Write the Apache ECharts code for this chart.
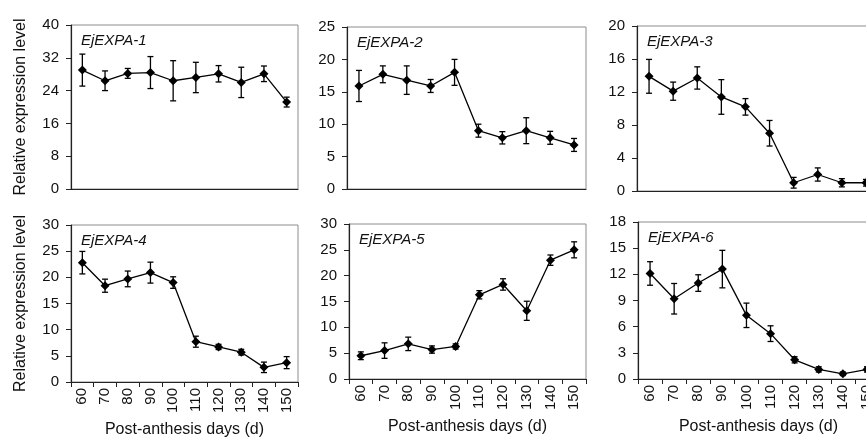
<!DOCTYPE html>
<html>
<head>
<meta charset="utf-8">
<script src="https://cdn.jsdelivr.net/npm/echarts@6/dist/echarts.min.js"></script>
<style>
  html, body { margin: 0; padding: 0; background: #fff; }
  #chart { width: 866px; height: 437px; }
</style>
</head>
<body>
<div id="chart"></div>
<script>
// post-anthesis days
const days = ['60', '70', '80', '90', '100', '110', '120', '130', '140', '150'];

// gene names
const genes = ['EjEXPA-1', 'EjEXPA-2', 'EjEXPA-3', 'EjEXPA-4', 'EjEXPA-5', 'EjEXPA-6'];

// mean relative expression and error (± SD)
const exp1 = [29.0, 26.4, 28.2, 28.4, 26.4, 27.2, 28.1, 26.0, 28.1, 21.2];
const err1 = [3.9, 2.4, 1.2, 3.9, 4.9, 3.7, 2.0, 3.7, 1.9, 1.2];
const exp2 = [15.9, 17.7, 16.8, 15.9, 18.0, 9.0, 7.9, 9.0, 7.9, 6.8];
const err2 = [2.4, 1.3, 2.2, 1.0, 2.0, 1.0, 0.95, 2.0, 1.0, 1.0];
const exp3 = [13.9, 12.1, 13.7, 11.4, 10.2, 7.0, 1.0, 2.0, 1.0, 1.0];
const err3 = [2.05, 1.1, 1.35, 2.1, 1.0, 1.55, 0.65, 0.8, 0.5, 0.4];
const exp4 = [22.8, 18.4, 19.7, 20.9, 19.0, 7.7, 6.7, 5.7, 2.8, 3.7];
const err4 = [2.15, 1.25, 1.5, 2.0, 1.1, 1.05, 0.5, 0.55, 1.0, 1.15];
const exp5 = [4.5, 5.5, 6.8, 5.7, 6.3, 16.3, 18.3, 13.2, 23.0, 25.0];
const err5 = [0.75, 1.5, 1.3, 0.7, 0.5, 0.8, 1.1, 1.85, 1.0, 1.55];
const exp6 = [12.1, 9.2, 11.0, 12.6, 7.3, 5.2, 2.2, 1.1, 0.6, 1.1];
const err6 = [1.35, 1.75, 0.95, 2.15, 1.4, 0.9, 0.35, 0.3, 0.2, 0.3];

// y axis ranges
const yMax = [40, 25, 20, 30, 30, 18];
const yStep = [8, 5, 4, 5, 5, 3];

const means = [exp1, exp2, exp3, exp4, exp5, exp6];
const errs = [err1, err2, err3, err4, err5, err6];

const FONT = 'Arial, "Liberation Sans", sans-serif';

// panel boxes (the right column runs off the page in the original)
const grids = [
    { left: 71, top: 25, width: 227, height: 164 },
    { left: 347, top: 27, width: 239, height: 162 },
    { left: 637, top: 26, width: 241, height: 165 },
    { left: 71, top: 225, width: 227, height: 157 },
    { left: 349, top: 224, width: 237, height: 155 },
    { left: 638, top: 222, width: 241, height: 157 }
];

const chart = echarts.init(document.getElementById('chart'));

const option = {
    animation: false,
    backgroundColor: '#fff',
    grid: grids.map(g => Object.assign({
        show: true, borderColor: '#8c8c8c', borderWidth: 1,
        containLabel: false, outerBoundsMode: 'none'
    }, g)),
    xAxis: [],
    yAxis: [],
    series: [],
    graphic: []
};

for (let i = 0; i < 6; i++) {
    const bottomRow = i >= 3;
    option.xAxis.push({
        type: 'category',
        gridIndex: i,
        data: days,
        boundaryGap: true,
        axisLine: { lineStyle: { color: '#222', width: 1.2 } },
        axisTick: { show: bottomRow, length: 5, lineStyle: { color: '#222' } },
        axisLabel: {
            show: bottomRow, rotate: 90, margin: 6, interval: 0,
            color: '#111', fontSize: 15, fontFamily: FONT
        },
        name: bottomRow ? 'Post-anthesis days (d)' : '',
        nameLocation: 'middle',
        nameGap: 40,
        nameTextStyle: { color: '#111', fontSize: 16, fontFamily: FONT }
    });
    option.yAxis.push({
        type: 'value',
        gridIndex: i,
        min: 0,
        max: yMax[i],
        interval: yStep[i],
        splitLine: { show: false },
        axisLine: { show: true, lineStyle: { color: '#222', width: 1.2 } },
        axisTick: { show: true, length: 5, lineStyle: { color: '#222' } },
        axisLabel: { margin: 12, color: '#111', fontSize: 15, fontFamily: FONT },
        name: i % 3 === 0 ? 'Relative expression level' : '',
        nameLocation: 'middle',
        nameGap: 42,
        nameTextStyle: { color: '#111', fontSize: 16, fontFamily: FONT }
    });

    // error bars
    option.series.push({
        type: 'custom',
        xAxisIndex: i,
        yAxisIndex: i,
        data: means[i].map((v, j) => [j, v, errs[i][j]]),
        encode: { x: 0, y: 1 },
        z: 2,
        renderItem: function (params, api) {
            const x = api.value(0), y = api.value(1), e = api.value(2);
            const hi = api.coord([x, y + e]);
            const lo = api.coord([x, y - e]);
            const w = 3;
            const style = { stroke: '#000', lineWidth: 1.3 };
            return {
                type: 'group',
                children: [
                    { type: 'line', shape: { x1: hi[0], y1: hi[1], x2: lo[0], y2: lo[1] }, style },
                    { type: 'line', shape: { x1: hi[0] - w, y1: hi[1], x2: hi[0] + w, y2: hi[1] }, style },
                    { type: 'line', shape: { x1: lo[0] - w, y1: lo[1], x2: lo[0] + w, y2: lo[1] }, style }
                ]
            };
        }
    });

    // mean line
    option.series.push({
        type: 'line',
        xAxisIndex: i,
        yAxisIndex: i,
        data: means[i],
        symbol: 'diamond',
        symbolSize: 9,
        z: 3,
        lineStyle: { color: '#000', width: 1.3 },
        itemStyle: { color: '#000' }
    });

    // gene label in the top-left corner of each panel
    option.graphic.push({
        type: 'text',
        left: grids[i].left + 10,
        top: grids[i].top + 8,
        style: {
            text: genes[i],
            fill: '#111',
            font: 'italic 15px ' + FONT
        }
    });
}

chart.setOption(option);
</script>
</body>
</html>
